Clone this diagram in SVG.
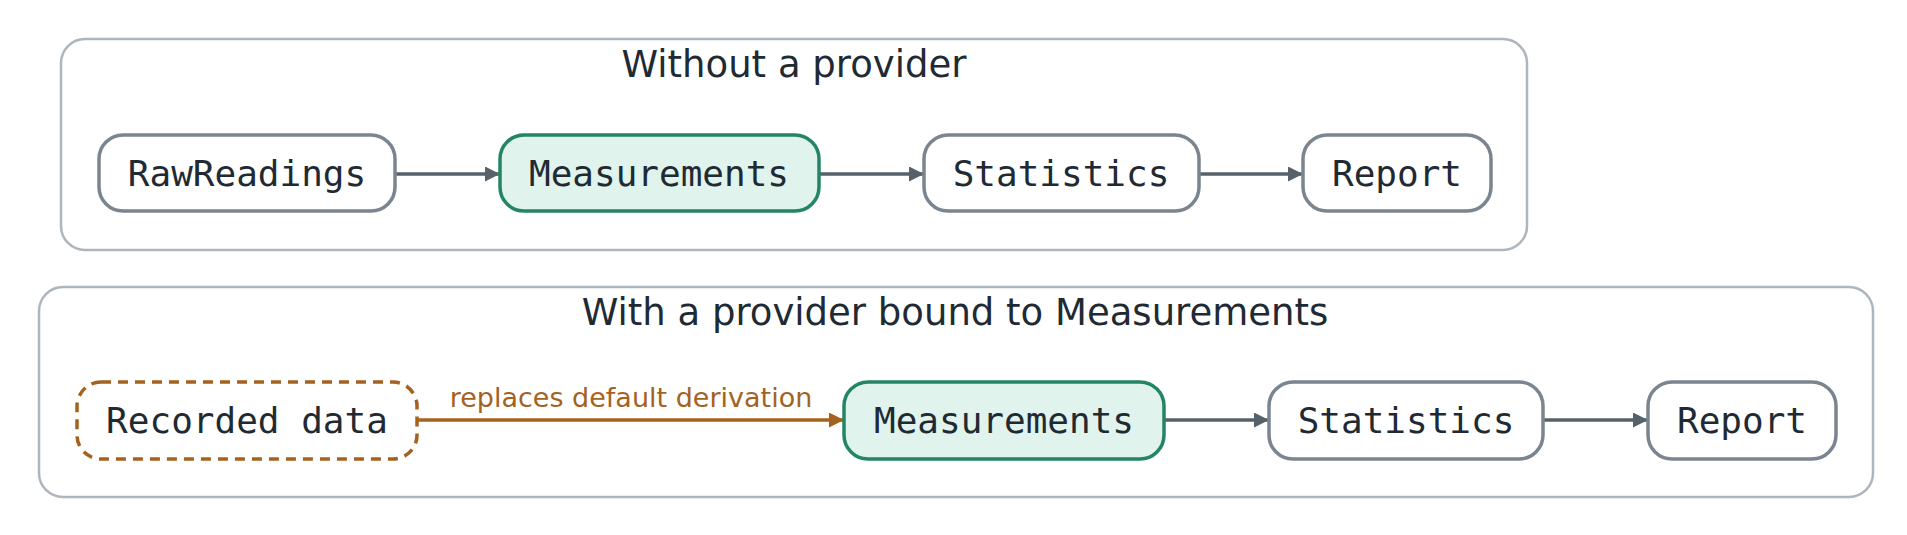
<svg xmlns="http://www.w3.org/2000/svg" width="1907" height="535" viewBox="0 0 1907 535">
<style>
.cl{fill:#fff;stroke:#adb5bd;stroke-width:2.5}
.ct{font-family:"DejaVu Sans",sans-serif;font-size:37px;fill:#212a33;text-anchor:middle}
.n{fill:#fff;stroke:#7a858f;stroke-width:3.5}
.g{fill:#e0f3ec;stroke:#248566;stroke-width:3.5}
.d{fill:#fff;stroke:#a5621f;stroke-width:3.5;stroke-dasharray:10,7}
.t{font-family:"DejaVu Sans Mono",monospace;font-size:36px;fill:#212a33;text-anchor:middle;dominant-baseline:central}
.e{stroke:#56616a;stroke-width:3.5;fill:none;marker-end:url(#a)}
.o{stroke:#a5621f;stroke-width:3.5;fill:none;marker-end:url(#b)}
.l{font-family:"DejaVu Sans",sans-serif;font-size:27px;fill:#a5621f;text-anchor:middle}
</style>
<defs>
<marker id="a" viewBox="0 0 10 10" refX="10" refY="5" markerWidth="22" markerHeight="15" markerUnits="userSpaceOnUse" orient="auto"><path d="M0,0L10,5L0,10z" fill="#56616a"/></marker>
<marker id="b" viewBox="0 0 10 10" refX="10" refY="5" markerWidth="22" markerHeight="15" markerUnits="userSpaceOnUse" orient="auto"><path d="M0,0L10,5L0,10z" fill="#a5621f"/></marker>
</defs>
<g id="cluster-top"><rect class="cl" x="61" y="39" width="1466" height="211" rx="24"/><text class="ct" x="794" y="77">Without a provider</text></g>
<g id="cluster-bottom"><rect class="cl" x="39" y="287" width="1834" height="210" rx="24"/><text class="ct" x="955" y="325">With a provider bound to Measurements</text></g>
<g id="edges">
<path class="e" d="M395,174H500"/>
<path class="e" d="M819,174H924"/>
<path class="e" d="M1199,174H1303"/>
<path class="o" d="M417,420H844"/>
<text class="l" x="631" y="407">replaces default derivation</text>
<path class="e" d="M1164,420H1269"/>
<path class="e" d="M1543,420H1648"/>
</g>
<g id="raw"><rect class="n" x="99" y="135" width="296" height="76" rx="24"/><text class="t" x="247" y="173">RawReadings</text></g>
<g id="meas1"><rect class="g" x="500" y="135" width="319" height="76" rx="24"/><text class="t" x="659" y="173">Measurements</text></g>
<g id="stat1"><rect class="n" x="924" y="135" width="275" height="76" rx="24"/><text class="t" x="1061" y="173">Statistics</text></g>
<g id="rep1"><rect class="n" x="1303" y="135" width="188" height="76" rx="24"/><text class="t" x="1397" y="173">Report</text></g>
<g id="rec"><rect class="d" x="77" y="382" width="340" height="77" rx="24"/><text class="t" x="247" y="420">Recorded data</text></g>
<g id="meas2"><rect class="g" x="844" y="382" width="320" height="77" rx="24"/><text class="t" x="1004" y="420">Measurements</text></g>
<g id="stat2"><rect class="n" x="1269" y="382" width="274" height="77" rx="24"/><text class="t" x="1406" y="420">Statistics</text></g>
<g id="rep2"><rect class="n" x="1648" y="382" width="188" height="77" rx="24"/><text class="t" x="1742" y="420">Report</text></g>
</svg>
